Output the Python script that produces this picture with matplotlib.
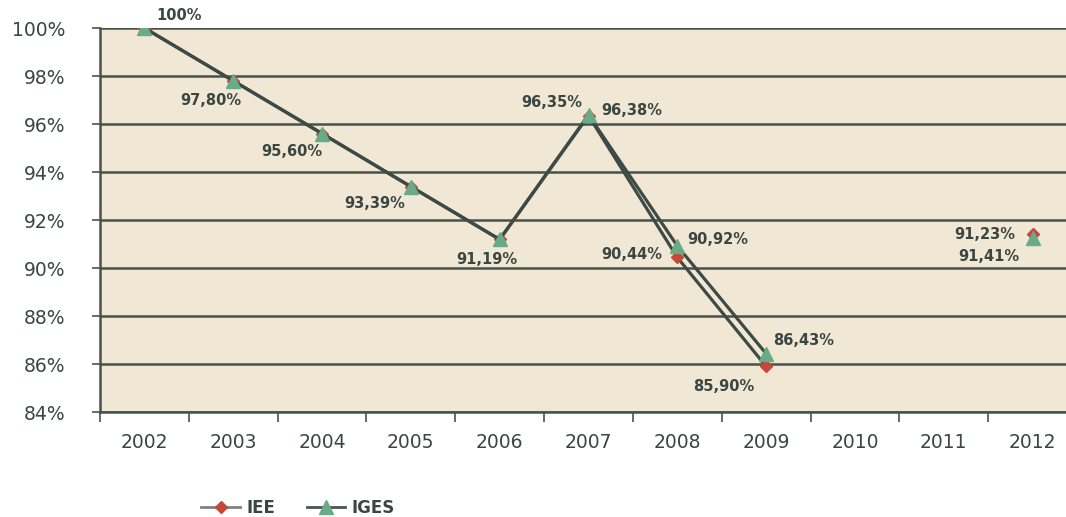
import matplotlib.pyplot as plt
from matplotlib.lines import Line2D
import numpy as np

plt.rcParams['font.family'] = ['DejaVu Sans']

## data
years = ['2002', '2003', '2004', '2005', '2006', '2007', '2008', '2009', '2010', '2011', '2012']
iee = [100, 97.80, 95.60, 93.39, 91.19, 96.35, 90.44, 85.90, np.nan, np.nan, 91.41]
iges = [100, 97.80, 95.60, 93.39, 91.19, 96.38, 90.92, 86.43, np.nan, np.nan, 91.23]

# value labels as printed on the chart
label_texts = ['100%', '97,80%', '95,60%', '93,39%', '91,19%', '96,35%', '96,38%',
               '90,44%', '90,92%', '85,90%', '86,43%', '91,23%', '91,41%']
label_points = [(0, 'iee'), (1, 'iee'), (2, 'iee'), (3, 'iee'), (4, 'iee'), (5, 'iee'), (5, 'iges'),
                (6, 'iee'), (6, 'iges'), (7, 'iee'), (7, 'iges'), (10, 'iee'), (10, 'iges')]
# placement in pixels (dx, dy, ha)
label_pos = [(12, 12, 'left'), (-22, -20, 'center'), (-30, -18, 'center'), (-36, -17, 'center'),
             (-13, -20, 'center'), (-6, 13, 'right'), (13, 4, 'left'), (-15, 3, 'right'),
             (10, 6, 'left'), (-12, -20, 'right'), (7, 13, 'left'), (-17, 0, 'right'),
             (-13, -18, 'right')]

text_col = '#3a4641'
line_col = '#3e4a45'
grid_col = '#47524d'
red = '#c4493a'
green = '#68ab86'

fig = plt.figure(figsize=(10.66, 5.17), dpi=100)
# the plot area runs a little past the right edge, like the original
ax = fig.add_axes([100 / 1066, 1 - 412 / 517, 977 / 1066, 384 / 517])
ax.set_facecolor('#f1e7d5')

x = np.arange(len(years))
ax.plot(x, iee, color=line_col, lw=2.3, marker='D', ms=6.5, mfc=red, mec=red, zorder=3)
ax.plot(x, iges, color=line_col, lw=2.3, marker='^', ms=10, mfc=green, mec=green, zorder=4)

series = {'iee': iee, 'iges': iges}
for txt, (i, s), (dx, dy, ha) in zip(label_texts, label_points, label_pos):
    ax.annotate(txt, (x[i], series[s][i]), xytext=(dx, dy), textcoords='offset pixels',
                ha=ha, va='center', fontsize=10.5, fontweight='bold', color=text_col,
                zorder=5)

ax.set_xlim(-0.5, 10.5)
ax.set_ylim(84, 100)
ax.set_yticks(range(84, 101, 2))
ax.set_yticklabels([f'{v}%' for v in range(84, 101, 2)])
ax.yaxis.grid(True, color=grid_col, lw=1.8)
ax.set_axisbelow(True)

ax.set_xticks(x)
ax.set_xticklabels(years)
ax.set_xticks(np.arange(-0.5, 11, 1), minor=True)
ax.tick_params(axis='x', which='major', length=0, pad=15)
ax.tick_params(axis='x', which='minor', length=7.5, width=1.2, color=grid_col)
ax.tick_params(axis='y', length=6, width=1.2, color=grid_col, pad=19)
ax.tick_params(labelsize=13.5, labelcolor=text_col)

for s in ['top', 'right']:
    ax.spines[s].set_visible(False)
for s in ['left', 'bottom']:
    ax.spines[s].set_color(grid_col)
    ax.spines[s].set_linewidth(1.8)

handles = [
    Line2D([], [], color='#808080', lw=2, marker='D', ms=6.5, mfc=red, mec=red),
    Line2D([], [], color='#4a5550', lw=2, marker='^', ms=10, mfc=green, mec=green),
]
leg = fig.legend(handles, ['IEE', 'IGES'], loc='center left',
                 bbox_to_anchor=(193 / 1066, 1 - 508 / 517), ncol=2, frameon=False,
                 borderpad=0, handlelength=2.3, handletextpad=0.4, columnspacing=1.9,
                 prop={'size': 12, 'weight': 'bold'})
for t in leg.get_texts():
    t.set_color(text_col)

fig.savefig('out.png', dpi=100)
